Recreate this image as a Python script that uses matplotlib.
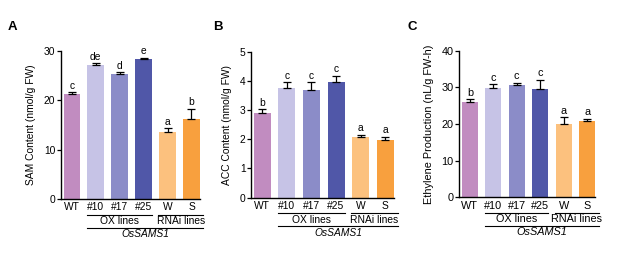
import matplotlib
matplotlib.use("Agg")
from matplotlib import pyplot as plt

plt.rcParams["font.family"] = ["Liberation Sans", "DejaVu Sans"]
plt.rcParams["font.size"] = 7

lines = ["WT", "#10", "#17", "#25", "W", "S"]
colors = ["#c18cc0", "#c6c3e6", "#8b8cc8", "#5057a8", "#fcc17e", "#f8a03e"]

sam_mean = [21.3, 27.1, 25.3, 28.3, 13.5, 16.2]
sam_err = [0.4, 0.4, 0.4, 0.3, 0.9, 2.1]
sam_sig = ["c", "de", "d", "e", "a", "b"]

acc_mean = [2.89, 3.74, 3.70, 3.95, 2.08, 1.97]
acc_err = [0.15, 0.22, 0.25, 0.23, 0.08, 0.12]
acc_sig = ["b", "c", "c", "c", "a", "a"]

eth_mean = [25.9, 29.7, 30.6, 29.5, 20.1, 20.7]
eth_err = [0.9, 1.1, 0.7, 2.6, 1.7, 0.8]
eth_sig = ["b", "c", "c", "c", "a", "a"]

panels = [
    ("A", sam_mean, sam_err, sam_sig, "SAM Content (nmol/g FW)", 30, [0, 10, 20, 30],
     [0.0989, 0.2165, 0.2250, 0.5830], 7.4),
    ("B", acc_mean, acc_err, acc_sig, "ACC Content (nmol/g FW)", 5, [0, 1, 2, 3, 4, 5],
     [0.4068, 0.2217, 0.2318, 0.5750], 7.4),
    ("C", eth_mean, eth_err, eth_sig, "Ethylene Production (nL/g FW-h)", 40, [0, 10, 20, 30, 40],
     [0.7444, 0.2232, 0.2204, 0.5770], 7.8),
]

fig = plt.figure(figsize=(6.17, 2.54), dpi=100)
x = list(range(len(lines)))
letter_x = [0.012, 0.345, 0.660]

for (tag, mean, err, sig, ylabel, ymax, yticks, pos, fs), lx in zip(panels, letter_x):
    ax = fig.add_axes(pos)
    ax.bar(x, mean, width=0.69, color=colors, edgecolor="none")
    ax.errorbar(x, mean, yerr=[[0] * len(err), err], fmt="none", ecolor="black",
                elinewidth=0.9, capsize=2.8, capthick=0.9)
    for xi, m, e, s in zip(x, mean, err, sig):
        ax.annotate(s, (xi, m + e), xytext=(0, 1.0), textcoords="offset points",
                    ha="center", va="bottom", fontsize=fs)
    ax.set_xlim(-0.45, 5.35)
    ax.set_ylim(0, ymax)
    ax.set_yticks(yticks)
    ax.set_xticks(x)
    ax.set_xticklabels(lines)
    ax.tick_params(axis="x", length=0, pad=2.5, labelsize=fs)
    ax.tick_params(axis="y", length=3, width=0.9, pad=1, labelsize=fs)
    ax.spines["top"].set_visible(False)
    ax.spines["right"].set_visible(False)
    ax.spines["left"].set_linewidth(1.0)
    ax.spines["bottom"].set_linewidth(1.0)
    ax.set_ylabel(ylabel, fontsize=fs, labelpad=5.5)

    trans = ax.get_xaxis_transform()
    h = pos[3] * 254
    y1 = -15.5 / h
    y2 = -28.5 / h
    ax.plot([0.655, 3.345], [y1, y1], transform=trans, color="black", lw=0.8, clip_on=False)
    ax.plot([3.62, 5.5], [y1, y1], transform=trans, color="black", lw=0.8, clip_on=False)
    ax.plot([0.655, 5.5], [y2, y2], transform=trans, color="black", lw=0.8, clip_on=False)
    ax.text(2.0, y1 - 1.5 / h, "OX lines", transform=trans, ha="center", va="top", fontsize=fs)
    ax.text(4.55, y1 - 1.5 / h, "RNAi lines", transform=trans, ha="center", va="top", fontsize=fs)
    ax.text(3.08, y2 - 1.5 / h, "OsSAMS1", transform=trans, ha="center", va="top",
            fontsize=fs, style="italic")

    fig.text(lx, 0.895, tag, fontsize=9.5, fontweight="bold", ha="left", va="center")

fig.savefig("out.png", dpi=100)
plt.close()
